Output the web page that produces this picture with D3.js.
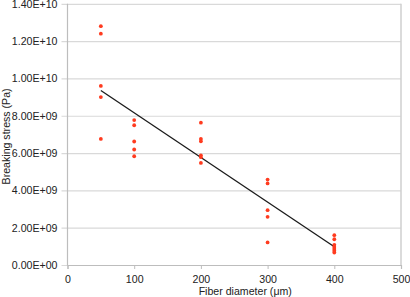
<!DOCTYPE html>
<html><head><meta charset="utf-8">
<script src="https://cdn.jsdelivr.net/npm/d3@7/dist/d3.min.js"></script>
<style>body{margin:0;background:#fff;}svg{display:block;} text{font-family:"Liberation Sans",Arial,sans-serif !important;}</style>
</head><body>
<script>
const diameters = [50,50,50,50,50, 100,100,100,100,100, 200,200,200,200,200,200, 300,300,300,300,300, 400,400,400,400,400,400,400];
const stresses = [12.8e9,12.4e9,9.6e9,9.0e9,6.76e9, 7.77e9,7.49e9,6.62e9,6.19e9,5.83e9, 7.63e9,6.76e9,6.63e9,5.88e9,5.78e9,5.47e9, 4.58e9,4.37e9,2.94e9,2.58e9,1.21e9, 1.60e9,1.38e9,1.08e9,0.97e9,0.86e9,0.76e9,0.67e9];
const trendX = [50,400];
const trendY = [9.35e9,0.98e9];
const xTicks = [0,100,200,300,400,500];
const yTicks = [0,2e9,4e9,6e9,8e9,1e10,1.2e10,1.4e10];

const W=410,H=297, FS="10.6px";
const svg=d3.select("body").append("svg").attr("width",W).attr("height",H);
const x=d3.scaleLinear().domain([0,500]).range([67.5,401]);
const y=d3.scaleLinear().domain([0,1.4e10]).range([265,3.8]);
const fmt=v=>{ if(v===0) return "0.00E+00"; const e=Math.floor(Math.log10(v)); const m=v/Math.pow(10,e); return m.toFixed(2)+"E+"+String(e).padStart(2,"0"); };

svg.append("g").attr("transform","translate(67.5,0)")
  .call(d3.axisLeft(y).tickValues(yTicks).tickFormat(fmt).tickSize(6).tickPadding(4))
  .call(g=>{g.select(".domain").remove();
    g.attr("font-size",null).attr("font-family",null);
    g.selectAll(".tick line").attr("x2",x(500)-67.5).attr("x1",-6).attr("stroke","#d9d9d9").attr("stroke-width",1.2);
    g.selectAll("text").style("font-size",FS).attr("fill","#222");});
svg.append("line").attr("x1",x(500)).attr("x2",x(500)).attr("y1",y(1.4e10)).attr("y2",y(0)).attr("stroke","#cfcfcf").attr("stroke-width",1.5);
svg.append("line").attr("x1",x(0)).attr("x2",x(0)).attr("y1",y(1.4e10)).attr("y2",y(0)+0.5).attr("stroke","#bdbdbd").attr("stroke-width",1.2);
svg.append("g").attr("transform",`translate(0,${y(0)})`)
  .call(d3.axisBottom(x).tickValues(xTicks).tickFormat(d3.format("d")).tickSize(4).tickPadding(6))
  .call(g=>{g.select(".domain").attr("stroke","#bdbdbd").attr("stroke-width",1.2);
    g.attr("font-size",null).attr("font-family",null);
    g.selectAll(".tick line").attr("stroke","#bdbdbd");
    g.selectAll("text").style("font-size",FS).attr("fill","#222");});

svg.append("path").datum(trendX.map((d,i)=>[d,trendY[i]]))
  .attr("d",d3.line().x(d=>x(d[0])).y(d=>y(d[1])))
  .attr("fill","none").attr("stroke","#1a1a1a").attr("stroke-width",1.3);

svg.append("g").selectAll("circle").data(diameters.map((d,i)=>[d,stresses[i]])).join("circle")
  .attr("cx",d=>x(d[0])).attr("cy",d=>y(d[1])).attr("r",1.9).attr("fill","#ff3b1f");

svg.append("text").attr("x",(x(0)+x(500))/2+11).attr("y",295).attr("text-anchor","middle")
  .style("font-size",FS).attr("fill","#222").text("Fiber diameter (μm)");
svg.append("text").attr("transform",`translate(9.5,${(y(0)+y(1.4e10))/2+2}) rotate(-90)`).attr("text-anchor","middle")
  .style("font-size",FS).attr("fill","#222").text("Breaking stress (Pa)");
</script>
</body></html>
